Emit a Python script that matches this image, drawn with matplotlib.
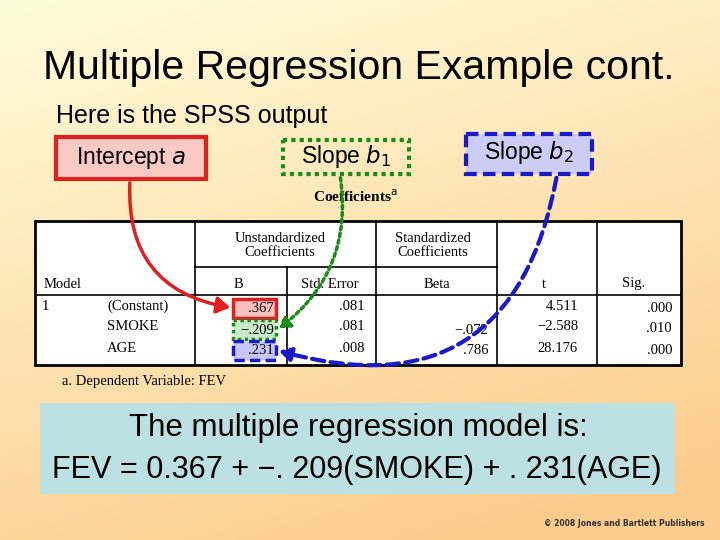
import matplotlib
matplotlib.use("Agg")
import matplotlib.pyplot as plt
import numpy as np
from matplotlib.patches import Rectangle, FancyArrowPatch

predictors = ["(Constant)", "SMOKE", "AGE"]
B = [".367", "\u2212.209", ".231"]
SE = [".081", ".081", ".008"]
Beta = ["", "\u2212.072", ".786"]
t_vals = ["4.511", "\u22122.588", "28.176"]
sig = [".000", ".010", ".000"]

fig = plt.figure(figsize=(7.2, 5.4), dpi=100)
ax = fig.add_axes([0, 0, 1, 1])
ax.set_xlim(0, 720); ax.set_ylim(540, 0); ax.axis("off")

yy, xx = np.mgrid[0:540, 0:720]
g = np.clip((yy / 540) * 0.8 + (xx / 720) * 0.3, 0, 1)
top = np.array([1.0, 0.99, 0.86]); bot = np.array([0.99, 0.80, 0.55])
img = top[None, None, :] * (1 - g[..., None]) + bot[None, None, :] * g[..., None]
ax.imshow(img, extent=[0, 720, 540, 0], zorder=0)

ax.text(359, 68, "Multiple Regression Example cont.", ha="center", va="center", fontsize=29.5, family="Liberation Sans")
ax.text(56, 116, "Here is the SPSS output", ha="left", va="center", fontsize=18, family="Liberation Sans")

ax.add_patch(Rectangle((56, 137), 150, 42, fc="#f9c9c4", ec="#e02020", lw=3, zorder=3))
ax.text(131, 158, "Intercept $a$", ha="center", va="center", fontsize=16.5, family="Liberation Sans", zorder=4)
ax.add_patch(Rectangle((283, 140), 126, 34, fc="none", ec="#1a8a1a", lw=3, ls=(0, (1, 1)), zorder=3))
ax.text(346, 157, "Slope $b_1$", ha="center", va="center", fontsize=16.5, family="Liberation Sans", zorder=4)
ax.add_patch(Rectangle((466, 134), 126, 40, fc="#cccdf5", ec="#1a1acc", lw=3, ls=(0, (3, 1.5)), zorder=3))
ax.text(529, 153, "Slope $b_2$", ha="center", va="center", fontsize=16.5, family="Liberation Sans", zorder=4)

ax.add_patch(Rectangle((35, 221), 646, 144, fc="white", ec="black", lw=2, zorder=2))
lk = dict(color="black", lw=1.2, zorder=3)
for x in [195, 376, 497, 597]:
    ax.plot([x, x], [221, 365], **lk)
ax.plot([287, 287], [267, 365], **lk)
ax.plot([195, 497], [267, 267], **lk)
ax.plot([35, 681], [295, 295], **lk)
sf = dict(family="Liberation Serif", fontsize=10.5, zorder=4, va="center")
ax.text(355, 197, "Coefficients$^{\\mathrm{a}}$", ha="center", family="Liberation Serif", fontsize=11, weight="bold", va="center", zorder=4)
ax.text(280, 245, "Unstandardized\nCoefficients", ha="center", linespacing=1.1, **sf)
ax.text(433, 245, "Standardized\nCoefficients", ha="center", linespacing=1.1, **sf)
ax.text(44, 284, "Model", ha="left", **sf)
ax.text(238, 284, "B", ha="center", **sf)
ax.text(330, 284, "Std. Error", ha="center", **sf)
ax.text(437, 284, "Beta", ha="center", **sf)
ax.text(544, 284, "t", ha="center", **sf)
ax.text(634, 284, "Sig.", ha="center", **sf)
ax.text(42, 306, "1", ha="left", **sf)
ys = [308, 329, 350]
fills = [("#f9c0c0", "#e02020", "-"), ("#c8ecc8", "#1a8a1a", (0, (1, 1))), ("#c8c8f5", "#1a1acc", (0, (3, 1.5)))]
for i, y in enumerate(ys):
    ax.text(107, y - 2, predictors[i], ha="left", **sf)
    fc, ec, ls = fills[i]
    ax.add_patch(Rectangle((233, y - 9), 43, 19, fc=fc, ec=ec, lw=2.5, ls=ls, zorder=3))
    ax.text(274, y + 1, B[i], ha="right", **sf)
    ax.text(365, y - 2, SE[i], ha="right", **sf)
    ax.text(488, y + 1, Beta[i], ha="right", **sf)
    ax.text(578, y - 2, t_vals[i], ha="right", **sf)
    ax.text(672, y, sig[i], ha="right", **sf)
ax.text(62, 381, "a. Dependent Variable: FEV", ha="left", **sf)

ax.add_patch(FancyArrowPatch((130, 180), (233, 308), connectionstyle="arc3,rad=0.45",
             arrowstyle="-|>,head_length=8,head_width=5", color="#e02020", lw=2.5, zorder=5))
ax.add_patch(FancyArrowPatch((340, 175), (277, 330), connectionstyle="arc3,rad=-0.3",
             arrowstyle="-|>,head_length=6,head_width=4", color="#1a8a1a", lw=2.5, ls=(0, (1, 1)), zorder=5))
ax.add_patch(FancyArrowPatch((557, 175), (276, 350), connectionstyle="arc3,rad=-0.55",
             arrowstyle="-|>,head_length=7,head_width=4", color="#1a1acc", lw=3, ls=(0, (3, 1.5)), zorder=5))

ax.add_patch(Rectangle((40, 403), 635, 91, fc="#bde0e3", ec="none", zorder=2))
ax.text(358, 428, "The multiple regression model is:", ha="center", va="center", fontsize=22.5, family="Liberation Sans", zorder=3)
ax.text(357, 470, "FEV = 0.367 + \u2212. 209(SMOKE) + . 231(AGE)", ha="center", va="center", fontsize=22, family="Liberation Sans", zorder=3)
ax.text(705, 524, "\u00a9 2008 Jones and Bartlett Publishers", ha="right", va="center", fontsize=5.5, weight="bold", color="#333333")

fig.savefig("out.png", dpi=100)
